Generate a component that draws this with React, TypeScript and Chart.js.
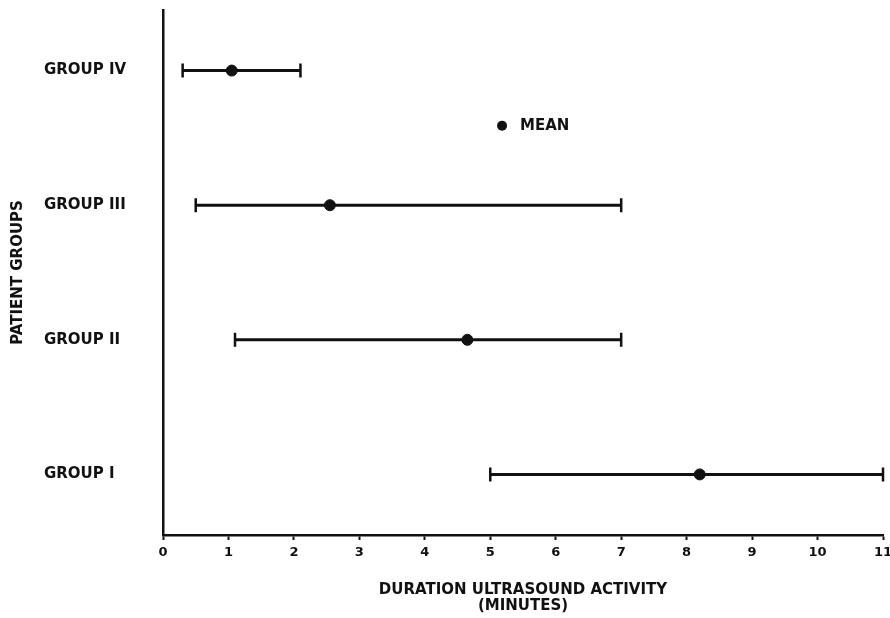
import React, { useEffect, useRef } from "react";
import { Chart, registerables } from "chart.js";

Chart.register(...registerables);

// ---- data ----
const GROUPS = ["GROUP I", "GROUP II", "GROUP III", "GROUP IV"];
const GROUP_POS = [1, 2, 3, 4];
const MEAN = [8.2, 4.65, 2.55, 1.05];
const LOW = [5.0, 1.1, 0.5, 0.3];
const HIGH = [11.0, 7.0, 7.0, 2.1];
const X_TICKS = [0, 1, 2, 3, 4, 5, 6, 7, 8, 9, 10, 11];
const X_TITLE = ["DURATION ULTRASOUND ACTIVITY", "(MINUTES)"];
const Y_TITLE = "PATIENT GROUPS";
const LEGEND_LABEL = "MEAN";
const LEGEND_AT = { x: 5.18, y: 3.59 };

const FONT = "'DejaVu Sans', sans-serif";
const INK = "#111";

const errorBarPlugin = {
  id: "errorBars",
  beforeDatasetsDraw(chart: any) {
    const { ctx, scales } = chart;
    const xs = scales.x;
    const ys = scales.y;
    ctx.save();
    ctx.strokeStyle = INK;
    GROUP_POS.forEach((g, i) => {
      const y = ys.getPixelForValue(g);
      const x1 = xs.getPixelForValue(LOW[i]);
      const x2 = xs.getPixelForValue(HIGH[i]);
      ctx.lineWidth = 3;
      ctx.beginPath();
      ctx.moveTo(x1, y);
      ctx.lineTo(x2, y);
      ctx.stroke();
      ctx.lineWidth = 2.5;
      ctx.beginPath();
      ctx.moveTo(x1, y - 7);
      ctx.lineTo(x1, y + 7);
      ctx.moveTo(x2, y - 7);
      ctx.lineTo(x2, y + 7);
      ctx.stroke();
    });
    ctx.restore();
  },
  afterDatasetsDraw(chart: any) {
    const { ctx, scales } = chart;
    const x = scales.x.getPixelForValue(LEGEND_AT.x);
    const y = scales.y.getPixelForValue(LEGEND_AT.y);
    ctx.save();
    ctx.fillStyle = INK;
    ctx.beginPath();
    ctx.arc(x, y, 5, 0, Math.PI * 2);
    ctx.fill();
    ctx.font = `bold 15px ${FONT}`;
    ctx.textAlign = "left";
    ctx.textBaseline = "middle";
    ctx.fillText(LEGEND_LABEL, x + 18, y + 0.5);
    ctx.restore();
  },
};

export default function App() {
  const ref = useRef<HTMLCanvasElement | null>(null);

  useEffect(() => {
    if (!ref.current) return;
    const chart = new Chart(ref.current, {
      type: "scatter",
      data: {
        datasets: [
          {
            label: LEGEND_LABEL,
            data: GROUP_POS.map((g, i) => ({ x: MEAN[i], y: g })),
            backgroundColor: INK,
            borderColor: INK,
            pointRadius: 5.5,
            pointHoverRadius: 5.5,
          },
        ],
      },
      options: {
        responsive: false,
        animation: false,
        layout: { padding: { left: 44, top: 10, right: 7, bottom: 0 } },
        plugins: {
          legend: { display: false },
          tooltip: { enabled: false },
        },
        scales: {
          x: {
            type: "linear",
            min: 0,
            max: 11,
            afterBuildTicks: (s: any) => {
              s.ticks = X_TICKS.map((v) => ({ value: v }));
            },
            afterFit: (s: any) => {
              s.height = 83;
              s.paddingLeft = 0;
              s.paddingRight = 0;
            },
            grid: {
              display: true,
              drawOnChartArea: false,
              drawTicks: true,
              tickLength: 5,
              tickWidth: 2,
              color: INK,
            },
            border: { display: true, color: INK, width: 2.5 },
            ticks: {
              color: INK,
              padding: 5,
              maxRotation: 0,
              autoSkip: false,
              font: { family: FONT, size: 13, weight: "bold" },
              callback: (v: any) => String(v),
            },
            title: {
              display: true,
              text: X_TITLE,
              color: INK,
              padding: { top: 0, bottom: 4 },
              font: { family: FONT, size: 15, weight: "bold", lineHeight: "16px" },
            },
          },
          y: {
            type: "linear",
            min: 0.55,
            max: 4.45,
            afterBuildTicks: (s: any) => {
              s.ticks = GROUP_POS.map((v) => ({ value: v }));
            },
            afterFit: (s: any) => {
              s.width = 119;
              s.paddingTop = 0;
              s.paddingBottom = 0;
            },
            grid: { display: false, drawTicks: false },
            border: { display: true, color: INK, width: 2.5 },
            ticks: {
              color: INK,
              crossAlign: "far",
              autoSkip: false,
              font: { family: FONT, size: 15, weight: "bold" },
              callback: (v: any) => {
                const i = GROUP_POS.indexOf(Number(v));
                return i >= 0 ? GROUPS[i] : "";
              },
            },
            title: {
              display: true,
              text: Y_TITLE,
              color: INK,
              padding: { top: -34, bottom: 0 },
              font: { family: FONT, size: 15, weight: "bold", lineHeight: "16px" },
            },
          },
        },
      },
      plugins: [errorBarPlugin],
    } as any);
    return () => chart.destroy();
  }, []);

  return (
    <div
      style={{
        position: "fixed",
        left: 0,
        top: 0,
        width: 890,
        height: 618,
        background: "#fff",
      }}
    >
      <canvas ref={ref} width={890} height={618} style={{ display: "block" }} />
    </div>
  );
}
